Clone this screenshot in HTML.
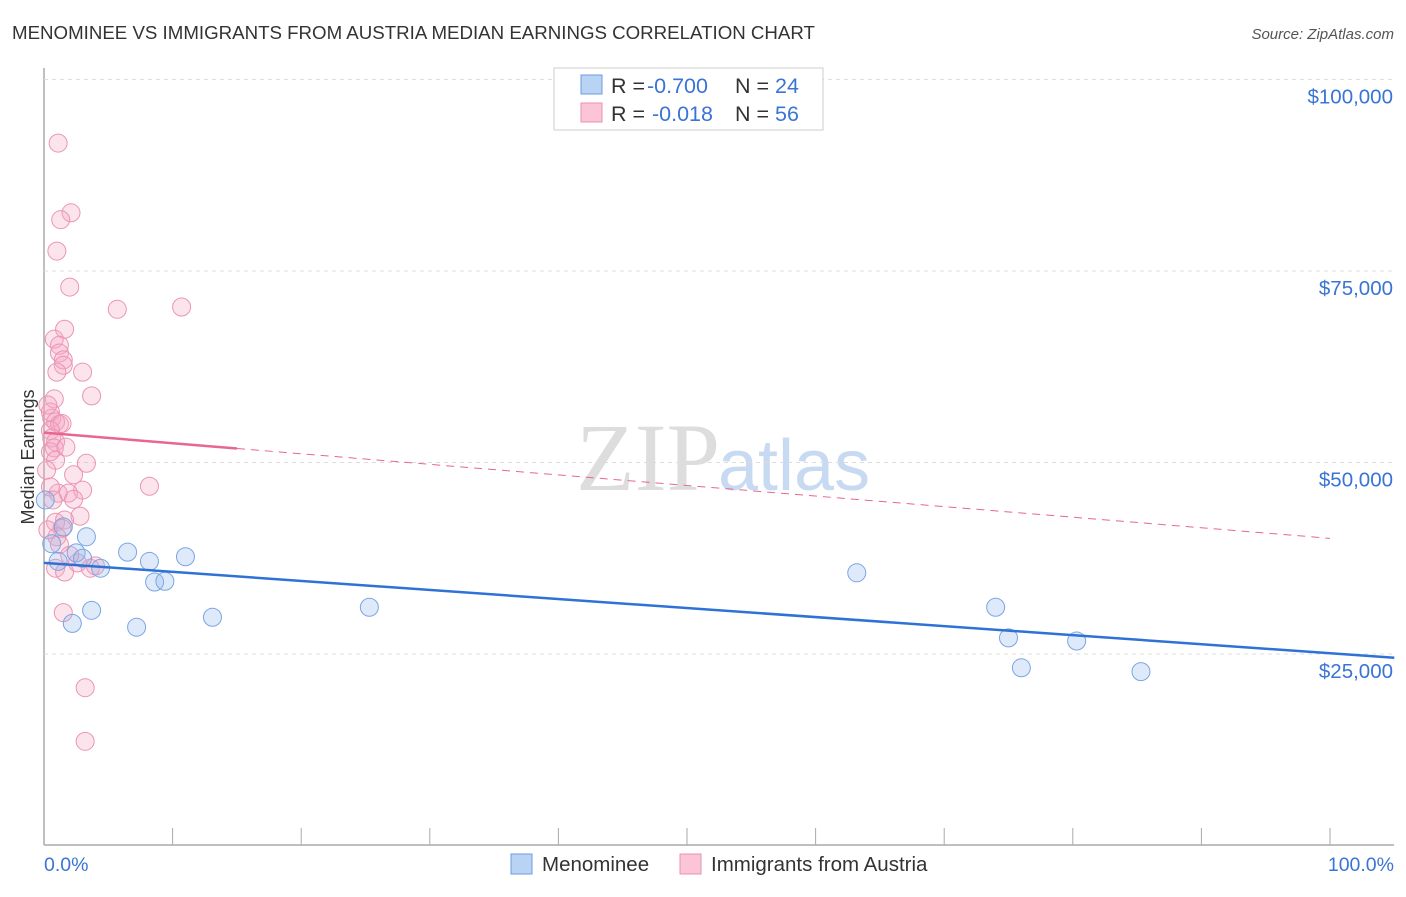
<!DOCTYPE html>
<html><head><meta charset="utf-8"><style>
body{margin:0;background:#fff;font-family:"Liberation Sans",sans-serif}
</style></head><body>
<svg id="c" width="1406" height="892" xmlns="http://www.w3.org/2000/svg" font-family="Liberation Sans, sans-serif">
<text x="12" y="39" font-size="18.7" fill="#333">MENOMINEE VS IMMIGRANTS FROM AUSTRIA MEDIAN EARNINGS CORRELATION CHART</text>
<text x="1394" y="39" font-size="15" fill="#555" font-style="italic" text-anchor="end">Source: ZipAtlas.com</text>
<text x="34" y="457" font-size="18" fill="#333" text-anchor="middle" transform="rotate(-90 34 457)">Median Earnings</text>
<text x="720" y="490" font-size="96" fill="#ddd" text-anchor="end" font-family="Liberation Serif, serif">ZIP</text>
<text x="718" y="490" font-size="72" fill="#c8daf2">atlas</text>
<g id="grid"></g><g id="marks"></g>
<g>
<rect x="554" y="68" width="269" height="62" fill="#fff" stroke="#ccc"/>
<rect x="581" y="75" width="21" height="19" fill="#b9d3f5" stroke="#6b9be0"/>
<rect x="581" y="103" width="21" height="19" fill="#fbc5d6" stroke="#ee8fb0"/>
<text x="611" y="93" font-size="21.5" fill="#333">R = <tspan x="647" fill="#3a74d4">-0.700</tspan><tspan x="735">N = </tspan><tspan fill="#3a74d4">24</tspan></text>
<text x="611" y="121" font-size="21.5" fill="#333">R = <tspan x="652" fill="#3a74d4">-0.018</tspan><tspan x="735">N = </tspan><tspan fill="#3a74d4">56</tspan></text>
</g>
<g>
<rect x="511" y="854" width="21" height="20" fill="#b9d3f5" stroke="#6b9be0"/>
<text x="542" y="871" font-size="20.5" fill="#333">Menominee</text>
<rect x="680" y="854" width="21" height="20" fill="#fbc5d6" stroke="#ee8fb0"/>
<text x="711" y="871" font-size="20.5" fill="#333">Immigrants from Austria</text>
</g>
<text x="44" y="871" font-size="19.5" fill="#3a74d4">0.0%</text>
<text x="1394" y="871" font-size="19.5" fill="#3a74d4" text-anchor="end">100.0%</text>
</svg>
<script>
const yTicks=[25000,50000,75000,100000];
const yTickLabels=["$25,000","$50,000","$75,000","$100,000"];
const blueX=[0.1,0.6,1.1,1.5,2.2,2.5,3.0,3.3,3.7,4.4,6.5,7.2,8.2,8.6,9.4,11.0,13.1,25.3,63.2,74.0,75.0,76.0,80.3,85.3];
const blueY=[45100,39400,37100,41600,29000,38200,37500,40300,30700,36200,38300,28500,37100,34400,34500,37700,29800,31100,35600,31100,27100,23200,26700,22700];
const pinkX=[1.1,2.1,1.3,1.0,2.0,5.7,10.7,1.6,0.8,1.2,1.2,1.5,1.5,1.0,3.0,3.7,0.8,0.5,0.6,0.9,1.2,1.4,0.5,0.6,0.9,0.5,0.8,3.3,2.3,8.2,3.0,1.1,1.9,2.3,0.5,2.8,0.9,1.6,1.4,1.0,0.9,1.6,2.6,3.6,1.5,3.2,3.2,0.3,0.9,0.2,1.7,0.7,1.2,2.0,0.3,4.0];
const pinkY=[91700,82600,81700,77600,72900,70000,70300,67400,66100,65300,64300,63400,62700,61800,61800,58700,58300,56600,55800,55300,55000,55100,54200,53200,52700,51400,51900,49900,48400,46900,46400,46000,46000,45200,46800,43000,42200,42500,41400,40300,36200,35700,36900,36200,30400,20600,13600,57500,50300,49000,52000,45100,39300,37900,41200,36500];
const blueTrend=[36900,25100];
const pinkTrend=[53900,40100];
const X=p=>44+p*12.86, Y=v=>845.5-v/130.55;
const NS="http://www.w3.org/2000/svg";
const g=document.getElementById('grid'), m=document.getElementById('marks');
function mk(tag,at,par){const e=document.createElementNS(NS,tag);for(const k in at)e.setAttribute(k,at[k]);par.appendChild(e);return e;}
const ax=mk('line',{x1:44,y1:68,x2:44,y2:845,stroke:'#aaa','stroke-width':1.5},g);


const bx=mk('line',{x1:44,y1:845,x2:1394,y2:845,stroke:'#aaa','stroke-width':1.5},g);


for(let i=0;i<=10;i++){const t=mk('line',{x1:X(i*10),y1:828,x2:X(i*10),y2:845,stroke:'#aaa'},g);

}
yTicks.forEach((v,i)=>{const l=mk('line',{x1:44,y1:Y(v),x2:1394,y2:Y(v),stroke:'#ddd','stroke-dasharray':'4 4'},g);


const t=mk('text',{x:1393,y:Y(v)+24,'font-size':20.5,fill:'#3a74d4','text-anchor':'end'},g);t.textContent=yTickLabels[i];

});
function pts(xs,ys,fill,stroke,name){xs.forEach((x,i)=>{const c=mk('circle',{cx:X(x),cy:Y(ys[i]),r:9,fill:fill,stroke:stroke,'stroke-width':1},m);

});}
pts(pinkX,pinkY,'rgba(246,165,195,0.3)','#eb95b3','pink-point');
pts(blueX,blueY,'rgba(145,185,240,0.3)','#7aa5e3','blue-point');
const ty=(a,p)=>a[0]+(a[1]-a[0])*p/100;
const b=mk('line',{x1:X(0),y1:Y(ty(blueTrend,0)),x2:X(105),y2:Y(ty(blueTrend,105)),stroke:'#2f72d6','stroke-width':2.5},m);


const p1=mk('line',{x1:X(0),y1:Y(ty(pinkTrend,0)),x2:X(15),y2:Y(ty(pinkTrend,15)),stroke:'#e8668f','stroke-width':2.5},m);


const p2=mk('line',{x1:X(15),y1:Y(ty(pinkTrend,15)),x2:X(100),y2:Y(ty(pinkTrend,100)),stroke:'#e8668f','stroke-width':1,'stroke-dasharray':'8 6'},m);


</script>
</body></html>
